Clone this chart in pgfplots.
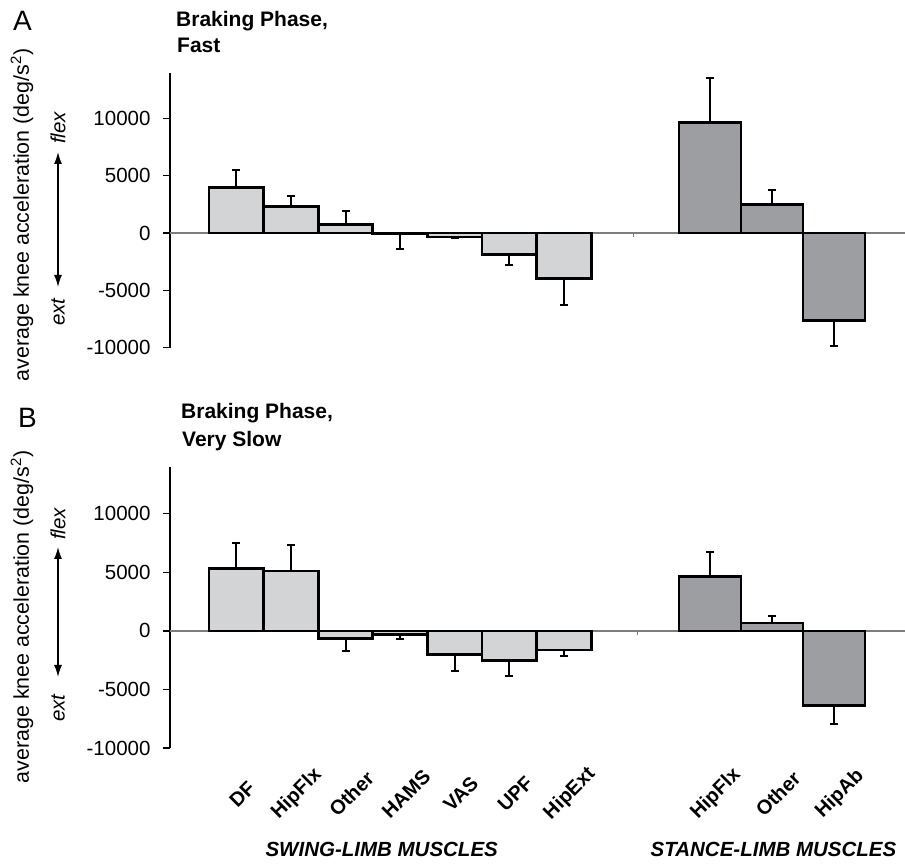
\documentclass[border=0pt]{standalone}
\usepackage{pgfplots}
\usepackage{pgfplotstable}
\pgfplotsset{compat=1.18}
\usetikzlibrary{arrows.meta}
\usepackage{fontspec}
\setmainfont{Liberation Sans}
\definecolor{swing}{RGB}{211,212,214}
\definecolor{stance}{RGB}{157,158,162}
\definecolor{zl}{RGB}{125,125,125}

% x = bar centre (px), y = mean, ep/em = error above/below
\pgfplotstableread{
x y ep em
236.3 3965 1575 0
290.9 2303 904 0
345.5 758 1137 0
400.1 -50 0 1350
454.7 -350 0 60
509.3 -1866 0 874
563.9 -3936 0 2304
}\topswing
\pgfplotstableread{
x y ep em
710 9679 3849 0
772 2507 1225 0
834 -7638 0 2216
}\topstance
\pgfplotstableread{
x y ep em
236.3 5343 2200 0
290.9 5114 2229 0
345.5 -629 0 1114
400.1 -314 0 372
454.7 -2029 0 1428
509.3 -2514 0 1343
563.9 -1629 0 514
}\botswing
\pgfplotstableread{
x y ep em
710 4657 2057 0
772 686 600 0
834 -6400 0 1571
}\botstance

\pgfplotsset{
  kneeaxis/.style={
    scale only axis, width=735pt,
    xmin=170, xmax=905, ymin=-10000, ymax=14000,
    axis lines*=left,
    x axis line style={draw=none},
    y axis line style={line width=1.3pt, black},
    ytick={-10000,-5000,0,5000,10000},
    scaled y ticks=false,
    tick align=outside, major tick length=7pt,
    ytick style={line width=1.3pt, black},
    xtick style={draw=none},
    yticklabel style={font=\fontsize{20.5}{24}\selectfont, xshift=-9pt},
    /pgf/number format/.cd, 1000 sep={}, assume math mode=true,
    /pgfplots/.cd,
    extra y ticks={0}, extra y tick labels={},
    extra y tick style={grid=major, major grid style={zl, line width=1.3pt}},
    clip=false,
  },
  kneebar/.style={
    ybar, bar shift=0pt,
    error bars/.cd, y dir=both, y explicit, error mark=-,
    error bar style={line width=2pt, black},
    error mark options={rotate=90, line width=2pt, mark size=4pt, black},
    /pgfplots/.cd,
  },
}

\begin{document}
\begin{tikzpicture}[x=1pt,y=1pt]
\useasboundingbox (0,0) rectangle (905,864);

% ---------- panel A ----------
\begin{axis}[kneeaxis, height=275pt, at={(170pt,516.3pt)}, anchor=south west, xtick=\empty]
\addplot[kneebar, draw=black, /tikz/line width=2.7pt, fill=swing, bar width=54.6] table[x=x, y=y, y error plus=ep, y error minus=em] {\topswing};
\addplot[kneebar, draw=black, /tikz/line width=2.7pt, fill=stance, bar width=62] table[x=x, y=y, y error plus=ep, y error minus=em] {\topstance};
\draw[zl, line width=1pt] (axis cs:633,0) -- (axis cs:633,-380);
\end{axis}

% ---------- panel B ----------
\begin{axis}[kneeaxis, height=281pt, at={(170pt,116pt)}, anchor=south west,
  xtick={236.3,290.9,345.5,400.1,454.7,509.3,563.9,710,772,834},
  xticklabels={DF,HipFlx,Other,HAMS,VAS,UPF,HipExt,HipFlx,Other,HipAb},
  xticklabel style={xshift=6pt, yshift=-39pt, rotate=45, anchor=center,
    font=\bfseries\fontsize{20}{24}\selectfont}]
\addplot[kneebar, draw=black, /tikz/line width=2.7pt, fill=swing, bar width=54.6] table[x=x, y=y, y error plus=ep, y error minus=em] {\botswing};
\addplot[kneebar, draw=black, /tikz/line width=2.7pt, fill=stance, bar width=62] table[x=x, y=y, y error plus=ep, y error minus=em] {\botstance};
\draw[zl, line width=1pt] (axis cs:637,0) -- (axis cs:637,-380);
\end{axis}

% panel letters and titles
\node[anchor=base west, font=\fontsize{28}{30}\selectfont, inner sep=0] at (13,833.3) {A};
\node[anchor=base west, font=\fontsize{28}{30}\selectfont, inner sep=0] at (18,436) {B};
\node[anchor=base west, font=\bfseries\fontsize{21}{24}\selectfont, inner sep=0] at (176,837.3) {Braking Phase,};
\node[anchor=base west, font=\bfseries\fontsize{21}{24}\selectfont, inner sep=0] at (177,811.3) {Fast};
\node[anchor=base west, font=\bfseries\fontsize{21}{24}\selectfont, inner sep=0] at (181,445.7) {Braking Phase,};
\node[anchor=base west, font=\bfseries\fontsize{21}{24}\selectfont, inner sep=0] at (182,417.3) {Very Slow};

% y labels
\node[rotate=90, font=\fontsize{21.4}{24}\selectfont, inner sep=0] at (22,649) {average knee acceleration (deg/s\textsuperscript{2})};
\node[rotate=90, font=\fontsize{21.4}{24}\selectfont, inner sep=0] at (22,247) {average knee acceleration (deg/s\textsuperscript{2})};

% flex / ext arrows
\node[rotate=90, font=\itshape\fontsize{20.5}{24}\selectfont, inner sep=0] at (58,736) {flex};
\node[rotate=90, font=\itshape\fontsize{20.5}{24}\selectfont, inner sep=0] at (58,552) {ext};
\draw[{Latex[length=12pt,width=8pt]}-{Latex[length=12pt,width=8pt]}, line width=1.4pt] (58,712) -- (58,577);
\node[rotate=90, font=\itshape\fontsize{20.5}{24}\selectfont, inner sep=0] at (58,340) {flex};
\node[rotate=90, font=\itshape\fontsize{20.5}{24}\selectfont, inner sep=0] at (58,156) {ext};
\draw[{Latex[length=12pt,width=8pt]}-{Latex[length=12pt,width=8pt]}, line width=1.4pt] (58,317) -- (58,187);

% group labels
\node[anchor=base, font=\bfseries\itshape\fontsize{20.5}{24}\selectfont, inner sep=0] at (381.7,7) {SWING-LIMB MUSCLES};
\node[anchor=base, font=\bfseries\itshape\fontsize{20.5}{24}\selectfont, inner sep=0] at (773.5,7) {STANCE-LIMB MUSCLES};
\end{tikzpicture}
\end{document}
